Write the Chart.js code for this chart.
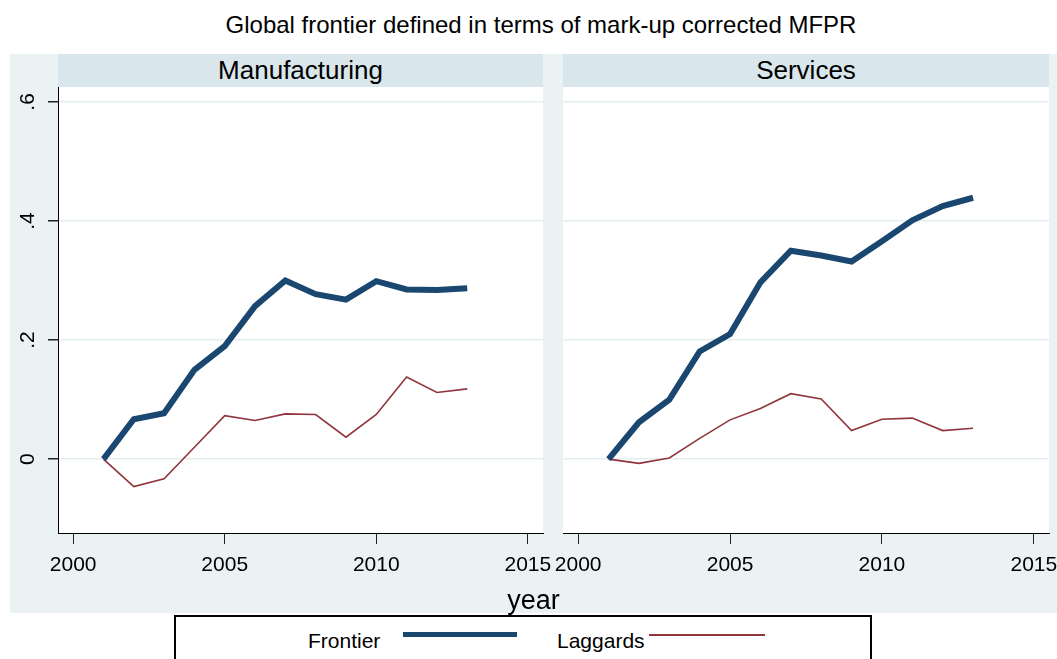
<!DOCTYPE html>
<html>
<head>
<meta charset="utf-8">
<script src="https://cdn.jsdelivr.net/npm/chart.js@4.4.1/dist/chart.umd.min.js"></script>
<style>
    body { margin: 0; background: #ffffff; font-family: "Liberation Sans", Arial, sans-serif; color: #000; }
    .abs { position: absolute; }
    #title { left: 0; top: 11px; width: 1082px; text-align: center; font-size: 24px; line-height: 28px; }
    #outer { left: 10px; top: 54px; width: 1047px; height: 559px; background: #eaf2f3; }
    .strip { top: 54px; height: 33px; background: #d9e6eb; }
    .stripText { top: 55px; text-align: center; font-size: 26px; line-height: 30px; }
    #xtitle { left: 10px; width: 1047px; top: 585px; text-align: center; font-size: 27px; line-height: 30px; }
    #legend { left: 174px; top: 615px; width: 694px; height: 60px; border: 2px solid #000; background: #fff; }
    .legText { top: 629px; font-size: 21px; line-height: 24px; }
</style>
</head>
<body>
<div id="title" class="abs">Global frontier defined in terms of mark-up corrected MFPR</div>
<div id="outer" class="abs"></div>
<div class="abs strip" style="left:58px;width:485px"></div>
<div class="abs strip" style="left:563px;width:486px"></div>
<div class="abs stripText" style="left:58px;width:485px">Manufacturing</div>
<div class="abs stripText" style="left:563px;width:486px">Services</div>
<canvas id="mfgChart" class="abs" style="left:10px;top:87px" width="548" height="526"></canvas>
<canvas id="svcChart" class="abs" style="left:553px;top:87px" width="504" height="526"></canvas>
<div id="xtitle" class="abs">year</div>
<div id="legend" class="abs"></div>
<div class="abs legText" style="left:308px">Frontier</div>
<div class="abs" style="left:403px;top:632px;width:114px;height:5px;background:#1a476f"></div>
<div class="abs legText" style="left:557px">Laggards</div>
<div class="abs" style="left:649px;top:634px;width:116px;height:1.5px;background:#90353b"></div>
<script>
"use strict";

//

const years = [2001, 2002, 2003, 2004, 2005, 2006, 2007, 2008, 2009, 2010, 2011, 2012, 2013];

const mfgFrontier = [0, 0.067, 0.077, 0.150, 0.190, 0.257, 0.300, 0.277, 0.268, 0.299, 0.285, 0.284, 0.287];
const mfgLaggards = [0, -0.046, -0.033, 0.020, 0.073, 0.065, 0.076, 0.075, 0.037, 0.075, 0.138, 0.112, 0.118];

const svcFrontier = [0, 0.062, 0.100, 0.181, 0.210, 0.297, 0.350, 0.342, 0.332, 0.366, 0.401, 0.425, 0.439];
const svcLaggards = [0, -0.007, 0.002, 0.035, 0.066, 0.085, 0.110, 0.101, 0.048, 0.067, 0.069, 0.048, 0.052];

const xTicks = [2000, 2005, 2010, 2015];
const yTicks = [0, 0.2, 0.4, 0.6];
const yTickLabels = ["0", ".2", ".4", ".6"];

//

const plotBackground = {
    id: "plotBackground",
    beforeDraw: (chart) => {
        const { ctx, chartArea } = chart;
        ctx.save();
        ctx.fillStyle = "#ffffff";
        ctx.fillRect(chartArea.left, chartArea.top, chartArea.right - chartArea.left, chartArea.bottom - chartArea.top);
        ctx.restore();
    },
};

const tickFont = { family: "'Liberation Sans', Arial, sans-serif", size: 21 };

const renderPanel = (id, frontier, laggards, showYAxis, rightPad) => {
    const ctx = document.getElementById(id).getContext("2d");

    new Chart(ctx, {
        type: "line",
        data: {
            datasets: [
                {
                    label: "Frontier",
                    data: years.map((y, i) => ({ x: y, y: frontier[i] })),
                    borderColor: "#1a476f",
                    borderWidth: 6,
                    pointRadius: 0,
                    tension: 0,
                },
                {
                    label: "Laggards",
                    data: years.map((y, i) => ({ x: y, y: laggards[i] })),
                    borderColor: "#90353b",
                    borderWidth: 1.6,
                    pointRadius: 0,
                    tension: 0,
                },
            ],
        },
        options: {
            responsive: false,
            animation: false,
            devicePixelRatio: 1,
            layout: { padding: { left: 0, top: 0, right: rightPad, bottom: 0 } },
            plugins: {
                legend: { display: false },
                tooltip: { enabled: false },
            },
            scales: {
                x: {
                    type: "linear",
                    min: 1999.5,
                    max: 2015.5,
                    afterBuildTicks: (s) => {
                        s.ticks = xTicks.map((v) => ({ value: v }));
                    },
                    afterFit: (s) => {
                        s.height = 80;
                        s.paddingLeft = 0;
                        s.paddingRight = 0;
                    },
                    ticks: {
                        font: tickFont,
                        color: "#000",
                        padding: 9,
                        maxRotation: 0,
                        autoSkip: false,
                        callback: (v) => String(v),
                    },
                    grid: {
                        drawOnChartArea: false,
                        drawTicks: true,
                        tickLength: 11,
                        tickColor: "#222",
                    },
                    border: { display: true, color: "#000", width: 1 },
                },
                y: {
                    type: "linear",
                    min: -0.124,
                    max: 0.625,
                    afterBuildTicks: (s) => {
                        s.ticks = yTicks.map((v) => ({ value: v }));
                    },
                    afterFit: (s) => {
                        s.width = showYAxis ? 48 : 10;
                        s.paddingTop = 0;
                        s.paddingBottom = 0;
                    },
                    ticks: {
                        display: showYAxis,
                        font: tickFont,
                        color: "#000",
                        padding: 11,
                        minRotation: 90,
                        maxRotation: 90,
                        crossAlign: "center",
                        callback: (v) => yTickLabels[yTicks.indexOf(v)],
                    },
                    grid: {
                        color: "#e4edf0",
                        lineWidth: 1.5,
                        drawTicks: showYAxis,
                        tickLength: 10,
                        tickColor: "#222",
                    },
                    border: { display: showYAxis, color: "#000", width: 1 },
                },
            },
        },
        plugins: [plotBackground],
    });
};

renderPanel("mfgChart", mfgFrontier, mfgLaggards, true, 15);
renderPanel("svcChart", svcFrontier, svcLaggards, false, 8);
</script>
</body>
</html>
